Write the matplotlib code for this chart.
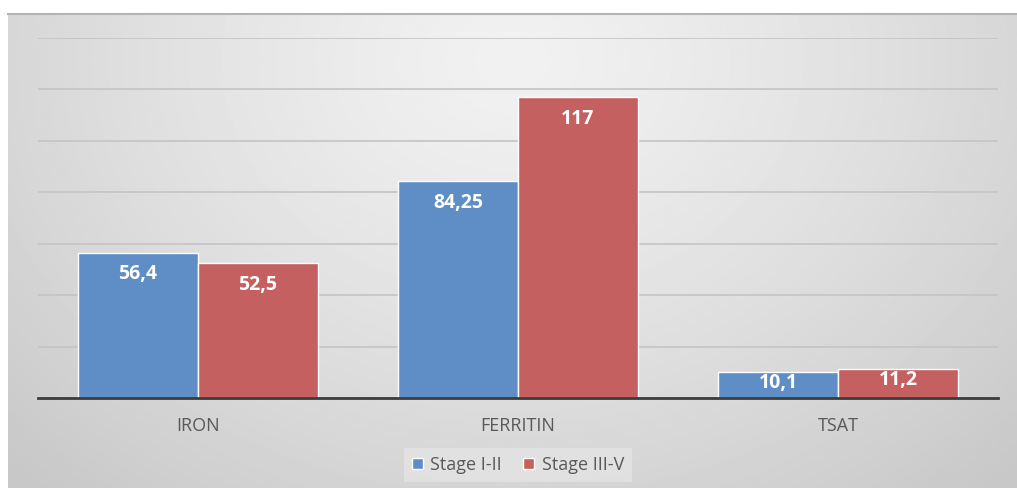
import numpy as np
import matplotlib

matplotlib.use("Agg")
import matplotlib.pyplot as plt

categories = ["IRON", "FERRITIN", "TSAT"]
stage_early = [56.4, 84.25, 10.1]
stage_late = [52.5, 117, 11.2]
series_names = ["Stage I-II", "Stage III-V"]
value_labels_early = ["56,4", "84,25", "10,1"]
value_labels_late = ["52,5", "117", "11,2"]

BLUE = "#5f8dc6"
RED = "#c4605f"
W, H = 1017, 488

plt.rcParams["font.family"] = ["Open Sans", "DejaVu Sans"]

fig = plt.figure(figsize=(W / 100, H / 100), dpi=100)
fig.patch.set_facecolor("white")

# gradient panel behind the chart
bg = fig.add_axes([8 / W, 0, 1 - 8 / W, (H - 13) / H])
yy, xx = np.mgrid[0:1:300j, 0:1:600j]
r = np.sqrt(((xx - 0.5) / 0.7) ** 2 + ((yy - 0.1) / 1.2) ** 2)
shade = 0.945 - 0.16 * np.clip(r, 0, 1) ** 1.3
bg.imshow(shade, cmap="gray", vmin=0, vmax=1, aspect="auto", extent=[0, 1, 0, 1], origin="upper")
bg.set_axis_off()
fig.add_artist(plt.Line2D([8 / W, 1], [(H - 13.5) / H] * 2, color="#b4b4b4", lw=1.5))

ax = fig.add_axes([38 / W, (H - 398) / H, 960 / W, 360 / H])
ax.patch.set_alpha(0)
x = np.arange(len(categories))
bw = 0.375
b1 = ax.bar(x - bw / 2, stage_early, bw, color=BLUE, edgecolor="white", linewidth=1, label=series_names[0], zorder=3)
b2 = ax.bar(x + bw / 2, stage_late, bw, color=RED, edgecolor="white", linewidth=1, label=series_names[1], zorder=3)

for bars, labels in [(b1, value_labels_early), (b2, value_labels_late)]:
    for rect, lab in zip(bars, labels):
        top = rect.get_height()
        # short bars: label sits just under the top edge
        off = -15.5 if top > 20 else -8
        ax.annotate(lab, (rect.get_x() + rect.get_width() / 2, top), xytext=(0, off),
                    textcoords="offset points", ha="center", va="center",
                    color="white", fontsize=14, fontweight="bold", zorder=4)

ax.set_xlim(-0.5, 2.5)
ax.set_ylim(0, 140)
ax.set_yticks(np.arange(0, 141, 20))
ax.yaxis.grid(True, color="#c4c4c4", lw=1.2, zorder=0)
ax.tick_params(axis="y", left=False, labelleft=False)
ax.tick_params(axis="x", bottom=False, labelsize=13, labelcolor="#595959", pad=10)
ax.set_xticks(x)
ax.set_xticklabels(categories)
for side in ["top", "right", "left"]:
    ax.spines[side].set_visible(False)
ax.spines["bottom"].set_color("#3c3c3c")
ax.spines["bottom"].set_linewidth(2)
ax.spines["bottom"].set_zorder(5)

leg = fig.legend(handles=[b1, b2], loc="center", bbox_to_anchor=(518 / W, (H - 465) / H),
                 ncol=2, frameon=True, fontsize=13, handlelength=0.6, handleheight=0.6,
                 handletextpad=0.4, columnspacing=1.2, borderpad=0.45, borderaxespad=0,
                 fancybox=False)
leg.get_frame().set_facecolor("#e4e4e4")
leg.get_frame().set_edgecolor("none")
for t in leg.get_texts():
    t.set_color("#595959")

fig.savefig("out.png", dpi=100)
